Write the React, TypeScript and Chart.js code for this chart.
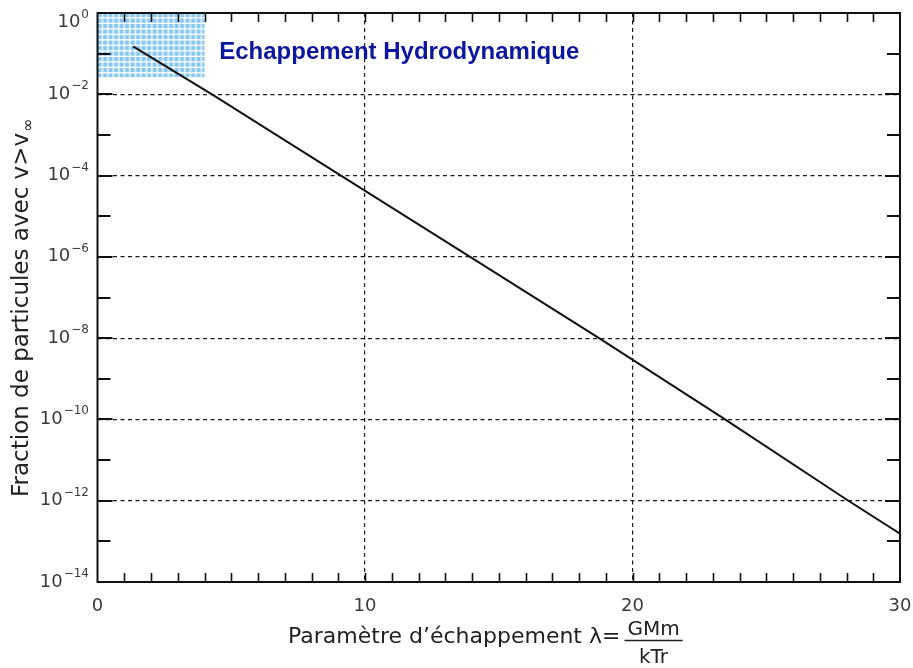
import { useEffect, useRef } from 'react';
import { Chart, registerables } from 'chart.js';

Chart.register(...registerables);

// ---- data ----
const lambdaValues = [1.33, 4.28, 9.1, 13.93, 18.75, 23.46, 28.07, 30];
const fractionValues = [0.151, 1e-2, 1e-4, 1e-6, 1e-8, 1e-10, 1e-12, 1.55e-13];

const xTickValues = [0, 10, 20, 30];
const xGridValues = [10, 20];
const yLabelExponents = [0, -2, -4, -6, -8, -10, -12, -14];
const yGridExponents = [-2, -4, -6, -8, -10, -12];
const yMinorExponents = [-1, -3, -5, -7, -9, -11, -13];

const hydroZoneLambda = [0, 4];
const hydroZoneFraction = [0.0265, 1];
const hydroLabel = 'Echappement Hydrodynamique';
const hydroLabelLambda = 4.55;
const hydroLabelFraction = 0.073;

const yTitle = 'Fraction de particules avec v>v';
const yTitleSub = '∞';
const xTitle = 'Paramètre d’échappement λ=';
const xTitleNum = 'GMm';
const xTitleDen = 'kTr';

function makePattern(ctx: CanvasRenderingContext2D) {
  const c = document.createElement('canvas');
  c.width = 11;
  c.height = 11;
  const p = c.getContext('2d')!;
  p.fillStyle = '#ffffff';
  p.fillRect(0, 0, 11, 11);
  p.fillStyle = '#86c8f0';
  for (const ox of [0, 5.5]) {
    for (const oy of [0, 5.5]) {
      p.fillRect(ox, oy, 4.2, 4.2);
    }
  }
  return ctx.createPattern(c, 'repeat')!;
}

const decorPlugin = {
  id: 'decor',
  beforeDatasetsDraw(chart: any) {
    const { ctx, scales } = chart;
    const x = scales.x;
    const y = scales.y;
    const x0 = x.getPixelForValue(hydroZoneLambda[0]);
    const x1 = x.getPixelForValue(hydroZoneLambda[1]);
    const y0 = y.getPixelForValue(hydroZoneFraction[1]);
    const y1 = y.getPixelForValue(hydroZoneFraction[0]);
    ctx.save();
    ctx.translate(x0, y0);
    ctx.fillStyle = makePattern(ctx);
    ctx.fillRect(0, 0, x1 - x0, y1 - y0);
    ctx.restore();
  },
  afterDatasetsDraw(chart: any) {
    const { ctx, scales } = chart;
    ctx.save();
    ctx.font = 'bold 24px "Liberation Sans", Arial, sans-serif';
    ctx.fillStyle = '#0c179e';
    ctx.textAlign = 'left';
    ctx.textBaseline = 'alphabetic';
    ctx.fillText(hydroLabel, scales.x.getPixelForValue(hydroLabelLambda), scales.y.getPixelForValue(hydroLabelFraction));
    ctx.restore();
  },
  afterDraw(chart: any) {
    const { ctx, chartArea, scales } = chart;
    const x = scales.x;
    const y = scales.y;
    const { left, right, top, bottom } = chartArea;
    ctx.save();
    ctx.strokeStyle = '#111';
    // frame
    ctx.lineWidth = 2;
    ctx.strokeRect(left, top, right - left, bottom - top);
    // x inward ticks
    ctx.lineWidth = 1.6;
    for (let v = 1; v < 30; v++) {
      const px = Math.round(x.getPixelForValue(v)) + 0.5;
      ctx.beginPath();
      ctx.moveTo(px, bottom);
      ctx.lineTo(px, bottom - 9);
      ctx.moveTo(px, top);
      ctx.lineTo(px, top + 9);
      ctx.stroke();
    }
    // y inward ticks
    ctx.lineWidth = 2;
    const drawY = (e: number, len: number) => {
      const py = Math.round(y.getPixelForValue(Math.pow(10, e)));
      ctx.beginPath();
      ctx.moveTo(left, py);
      ctx.lineTo(left + len, py);
      ctx.moveTo(right, py);
      ctx.lineTo(right - len, py);
      ctx.stroke();
    };
    yMinorExponents.forEach((e) => drawY(e, 13));
    yGridExponents.forEach((e) => drawY(e, 15));

    // y labels with superscripts
    ctx.fillStyle = '#3a3a3a';
    const rightEdge = 89;
    yLabelExponents.forEach((e) => {
      const py = y.getPixelForValue(Math.pow(10, e));
      const sup = e === 0 ? '0' : '\u2212' + String(-e);
      ctx.font = '12px "DejaVu Sans", sans-serif';
      const sw = ctx.measureText(sup).width;
      const base = Math.max(py + 4.5, 27);
      ctx.textAlign = 'left';
      ctx.textBaseline = 'alphabetic';
      ctx.fillText(sup, rightEdge - sw, base - 9.5);
      ctx.font = '18px "DejaVu Sans", sans-serif';
      ctx.textAlign = 'right';
      ctx.fillText('10', rightEdge - sw - 1, base);
    });

    // y title
    ctx.fillStyle = '#222';
    ctx.save();
    ctx.translate(28, 497);
    ctx.rotate(-Math.PI / 2);
    ctx.font = '23px "DejaVu Sans", sans-serif';
    ctx.textAlign = 'left';
    ctx.textBaseline = 'alphabetic';
    ctx.fillText(yTitle, 0, 0);
    const tw = ctx.measureText(yTitle).width;
    ctx.font = '16px "DejaVu Sans", sans-serif';
    ctx.fillText(yTitleSub, tw + 1, 5);
    ctx.restore();

    // x title
    ctx.font = '22px "DejaVu Sans", sans-serif';
    ctx.textAlign = 'left';
    ctx.textBaseline = 'alphabetic';
    ctx.fillText(xTitle, 288, 643);
    const xw = ctx.measureText(xTitle).width;
    ctx.font = '20px "DejaVu Sans", sans-serif';
    const nw = ctx.measureText(xTitleNum).width;
    const dw = ctx.measureText(xTitleDen).width;
    const fw = Math.max(nw, dw) + 6;
    const fx = 288 + xw + 4;
    const cx = fx + fw / 2;
    ctx.textAlign = 'center';
    ctx.fillText(xTitleNum, cx, 635);
    ctx.fillText(xTitleDen, cx, 663);
    ctx.lineWidth = 1.5;
    ctx.strokeStyle = '#222';
    ctx.beginPath();
    ctx.moveTo(fx, 640.5);
    ctx.lineTo(fx + fw, 640.5);
    ctx.stroke();
    ctx.restore();
  },
};

export default function App() {
  const ref = useRef<HTMLCanvasElement>(null);
  useEffect(() => {
    const canvas = ref.current!;
    const points = lambdaValues.map((l, i) => ({ x: l, y: fractionValues[i] }));
    const chart = new Chart(canvas, {
      type: 'line',
      data: {
        datasets: [
          {
            data: points,
            borderColor: '#111',
            borderWidth: 2,
            pointRadius: 0,
            tension: 0,
            fill: false,
          },
        ],
      },
      options: {
        responsive: false,
        animation: false,
        events: [],
        layout: { padding: { top: 13, right: 13, left: 0, bottom: 0 } },
        plugins: { legend: { display: false }, tooltip: { enabled: false } },
        scales: {
          x: {
            type: 'linear',
            min: 0,
            max: 30,
            afterBuildTicks: (scale: any) => {
              scale.ticks = xTickValues.map((v) => ({ value: v }));
            },
            afterFit: (scale: any) => {
              scale.height = 86;
              scale.paddingLeft = 0;
              scale.paddingRight = 0;
            },
            ticks: {
              autoSkip: false,
              maxRotation: 0,
              padding: 14,
              color: '#3a3a3a',
              font: { family: '"DejaVu Sans", sans-serif', size: 18 },
              callback: (v: any) => String(v),
            },
            grid: {
              drawTicks: false,
              lineWidth: 1.2,
              color: (c: any) => (c.tick && xGridValues.includes(c.tick.value) ? '#1a1a1a' : 'rgba(0,0,0,0)'),
            },
            border: { display: false, dash: [4, 3.5] },
          },
          y: {
            type: 'logarithmic',
            min: 1e-14,
            max: 1,
            afterBuildTicks: (scale: any) => {
              scale.ticks = yLabelExponents.map((e) => ({ value: Math.pow(10, e) }));
            },
            afterFit: (scale: any) => {
              scale.width = 97.5;
              scale.paddingTop = 0;
              scale.paddingBottom = 0;
            },
            ticks: { display: false },
            grid: {
              drawTicks: false,
              lineWidth: 1.2,
              color: (c: any) => {
                if (!c.tick) return 'rgba(0,0,0,0)';
                const e = Math.round(Math.log10(c.tick.value));
                return yGridExponents.includes(e) ? '#1a1a1a' : 'rgba(0,0,0,0)';
              },
            },
            border: { display: false, dash: [4, 3.5] },
          },
        },
      },
      plugins: [decorPlugin],
    } as any);
    return () => chart.destroy();
  }, []);
  return (
    <div style={{ position: 'fixed', left: 0, top: 0, width: 913, height: 668, background: '#fff' }}>
      <canvas ref={ref} width={913} height={668} style={{ display: 'block', width: 913, height: 668 }} />
    </div>
  );
}
